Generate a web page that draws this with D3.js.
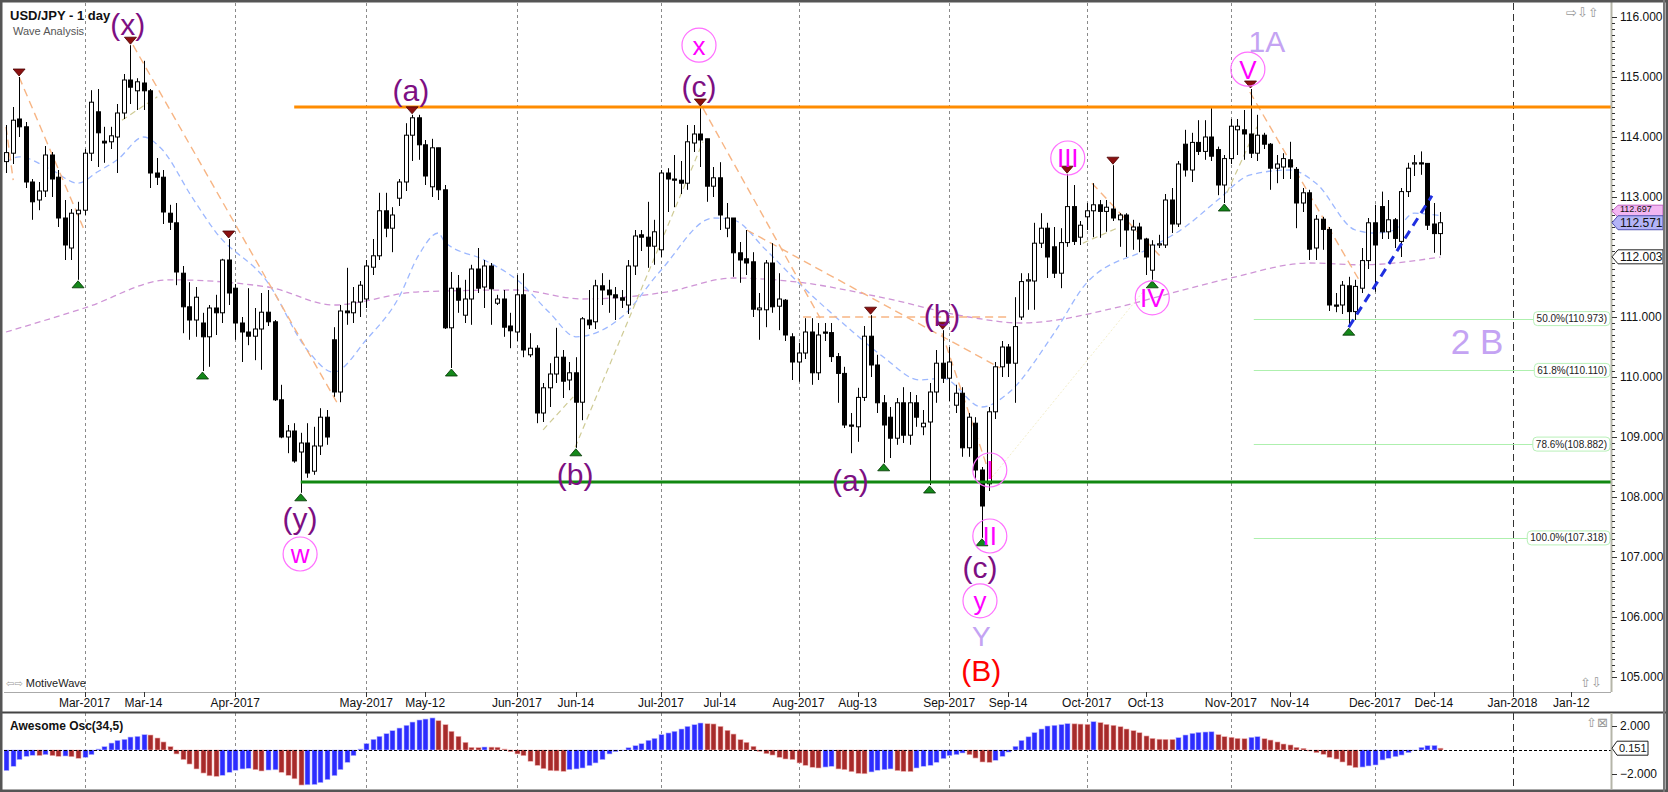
<!DOCTYPE html>
<html><head><meta charset="utf-8">
<script src="https://cdn.jsdelivr.net/npm/d3@7"></script>
<style>
html,body{margin:0;padding:0;background:#fff;overflow:hidden}
svg{display:block;font-family:"Liberation Sans",Arial,sans-serif}
</style></head><body>
<svg id="c" width="1668" height="792"></svg>
<script>
// ---------- DATA ----------
const open = [113.59,113.73,114.30,114.17,113.25,112.95,113.10,113.70,113.33,112.65,
112.15,112.72,112.78,113.73,114.42,113.93,113.92,114.00,114.40,114.95,
114.77,114.90,114.77,113.40,113.33,112.73,112.57,111.73,111.17,110.95,
110.90,110.67,111.15,111.07,111.95,111.48,110.90,110.75,110.68,110.80,
111.08,110.92,109.62,109.00,109.10,108.75,108.90,108.43,108.85,109.33,
110.62,109.75,111.10,111.07,111.25,111.30,111.83,112.02,112.77,112.48,
112.98,113.25,114.03,114.32,113.87,113.17,113.82,113.12,110.82,111.48,
111.03,111.30,111.80,111.50,111.85,111.23,111.30,110.85,110.75,111.37,
110.37,110.48,109.40,109.82,110.05,110.33,109.95,110.07,109.58,110.95,
110.92,111.52,111.45,111.37,111.32,111.20,111.85,112.37,112.33,112.18,
112.12,113.40,113.30,113.28,113.23,113.90,114.05,113.97,113.18,113.32,
112.48,112.65,112.07,111.97,111.92,111.12,111.12,111.90,111.18,111.28,
110.67,110.25,110.40,110.75,110.07,110.75,110.74,110.34,110.06,109.20,
109.17,109.66,110.68,110.20,109.57,109.33,108.98,109.57,109.03,109.57,
109.17,109.25,109.75,110.23,109.98,109.53,109.73,108.82,109.23,108.45,
108.22,109.42,110.17,110.50,110.23,111.00,111.60,111.60,112.23,112.48,
112.17,111.73,112.24,112.84,112.33,112.67,112.77,112.87,112.76,112.80,
112.62,112.70,112.45,112.50,112.30,111.78,112.20,112.20,112.95,112.55,
113.88,113.45,113.91,113.76,114.00,113.79,113.20,113.64,114.12,114.12,
114.05,113.73,114.03,113.88,113.48,113.50,113.62,113.46,112.90,113.07,
112.15,112.63,112.46,111.20,111.20,111.52,111.09,111.48,111.94,112.57,
112.84,112.42,112.62,112.26,113.09,113.55,113.57,113.56,112.55,112.39];
const high = [114.20,114.50,115.00,114.25,113.30,113.25,113.85,113.75,113.45,112.95,
112.80,112.92,113.80,114.78,114.80,114.17,114.17,114.55,115.05,115.53,
114.98,115.27,114.80,113.65,113.45,112.87,112.90,111.85,111.58,111.50,
111.07,111.20,111.37,111.97,112.30,111.55,111.00,111.48,111.15,111.40,
111.45,110.95,109.87,109.20,109.23,109.07,109.23,109.17,109.48,109.45,
110.83,111.20,111.82,111.50,111.60,111.95,112.30,113.07,113.07,112.83,
113.30,114.23,114.37,114.37,113.95,113.97,113.82,113.20,111.75,111.70,
111.62,111.87,112.15,111.95,111.90,111.37,111.45,111.07,111.70,111.73,
110.73,110.53,109.90,110.23,110.82,110.45,110.25,110.33,111.00,111.45,
111.62,111.73,111.62,111.50,111.45,111.95,112.45,112.45,112.92,112.62,
113.45,113.48,113.70,113.60,114.20,114.20,114.50,113.97,113.50,113.58,
112.90,112.65,112.25,112.45,112.08,111.40,111.95,112.23,111.73,111.30,
110.73,110.57,110.98,110.98,110.90,110.90,110.90,110.40,110.17,109.40,
109.82,110.85,111.03,110.37,109.70,109.50,109.65,109.83,109.75,109.70,
109.45,109.90,110.45,110.78,110.50,109.87,109.83,109.40,109.33,108.50,
109.50,110.25,110.60,110.55,111.33,111.73,111.73,112.57,112.73,112.57,
112.50,112.48,113.38,113.20,112.60,112.90,113.23,112.95,112.95,113.53,
112.73,112.73,112.62,112.57,112.32,112.28,112.37,113.05,113.15,113.60,
114.12,114.07,114.28,114.28,114.48,113.84,113.70,114.30,114.30,114.45,
114.80,114.37,114.07,113.90,113.70,113.73,113.92,113.50,113.15,113.12,
112.70,112.67,112.50,111.40,111.60,111.67,111.62,112.15,112.65,112.87,
113.09,112.95,112.65,113.15,113.57,113.70,113.76,113.56,112.90,112.75];
const low = [113.40,113.55,114.00,113.15,112.62,112.78,113.00,113.00,112.50,111.95,
111.95,111.62,112.70,113.60,113.50,113.57,113.80,113.40,114.30,114.55,
114.45,114.45,113.15,113.20,112.55,112.45,111.53,110.73,110.62,110.67,
110.10,110.17,110.70,110.90,111.20,110.62,110.25,110.53,110.28,110.12,
110.85,109.60,108.98,108.73,108.57,108.07,108.32,108.37,108.70,108.87,
109.67,109.58,110.87,110.90,111.00,111.15,111.70,111.95,112.33,112.08,
112.85,113.10,113.60,113.62,113.20,113.00,112.95,110.80,110.15,111.07,
110.90,110.87,111.40,111.15,110.87,111.20,110.67,110.48,110.60,110.33,
110.33,109.23,109.25,109.50,109.90,109.65,109.78,108.82,109.28,110.80,
110.80,111.20,111.07,110.95,111.15,111.05,111.70,112.10,111.82,111.87,
112.00,112.75,112.83,113.05,113.12,113.75,113.50,112.92,113.00,112.45,
112.33,111.67,111.57,111.70,111.00,110.62,110.83,111.07,110.78,110.60,
109.95,109.92,110.30,109.87,109.95,110.60,110.25,109.57,109.15,108.73,
108.92,109.60,110.00,109.40,108.57,108.65,108.87,108.90,108.87,109.17,
109.03,108.20,109.57,109.90,109.60,109.40,108.67,108.67,108.30,107.32,
108.10,109.30,110.00,110.00,109.57,110.95,111.12,111.12,112.15,111.65,
111.65,111.48,112.17,112.20,112.20,112.45,112.33,112.32,112.42,112.60,
112.17,112.00,112.12,112.08,111.70,111.62,112.15,112.15,112.40,112.50,
113.34,113.25,113.70,113.62,113.60,113.03,112.90,113.55,113.70,113.62,
113.65,113.60,113.80,113.12,113.23,113.30,113.30,112.48,112.75,111.95,
111.95,112.12,111.10,111.08,111.05,110.83,110.95,111.40,111.80,111.42,
112.30,112.30,112.15,112.00,113.00,113.35,113.37,112.45,112.07,112.03];
const close = [113.74,114.28,114.17,113.25,112.92,113.10,113.70,113.30,112.65,112.20,
112.73,112.78,113.73,114.58,114.07,113.90,114.02,114.40,114.95,114.83,
114.92,114.77,113.40,113.33,112.75,112.58,111.75,111.17,110.95,111.33,
110.67,111.15,111.07,111.95,111.40,110.90,110.75,110.68,110.80,111.08,
110.92,109.62,109.00,109.10,108.60,108.90,108.40,108.85,109.33,109.00,
109.75,111.10,111.07,111.25,111.53,111.85,112.02,112.77,112.48,112.70,
113.25,114.03,114.32,113.87,113.35,113.82,113.12,110.82,111.48,111.28,
111.30,111.80,111.48,111.85,111.47,111.30,110.83,110.77,111.37,110.45,
110.48,109.40,109.82,110.05,110.33,109.93,110.07,109.58,110.97,110.87,
111.52,111.45,111.37,111.32,111.28,111.85,112.35,112.33,112.18,112.42,
113.40,113.30,113.28,113.23,113.92,114.05,113.95,113.18,113.32,112.70,
112.65,112.07,111.95,111.90,111.13,111.15,111.90,111.17,111.30,110.70,
110.25,110.40,110.75,110.07,110.70,110.73,110.34,110.06,109.20,109.18,
109.66,110.68,110.20,109.57,109.20,108.98,109.57,109.03,109.57,109.33,
109.23,109.75,110.23,109.98,110.25,109.73,108.82,109.33,108.45,107.85,
109.42,110.17,110.50,110.23,110.84,111.59,111.62,112.23,112.48,112.00,
111.73,112.24,112.84,112.26,112.53,112.77,112.87,112.76,112.83,112.65,
112.70,112.45,112.50,112.30,112.00,112.20,112.22,112.95,112.55,113.55,
113.45,113.91,113.76,114.00,113.68,113.20,113.64,114.18,114.18,114.05,
113.73,114.03,113.88,113.48,113.55,113.64,113.50,112.90,113.07,112.13,
112.63,112.46,111.20,111.18,111.53,111.09,111.51,111.94,112.57,112.20,
112.42,112.62,112.31,113.09,113.48,113.57,113.55,112.53,112.39,112.571];
const awesomeOsc = [-1.72,-1.36,-0.80,-0.53,-0.44,-0.46,-0.39,-0.47,-0.53,-0.50,
-0.56,-0.69,-0.61,-0.39,0.08,0.28,0.58,0.80,0.89,1.08,
1.14,1.28,1.25,1.00,0.67,0.28,-0.33,-0.80,-1.17,-1.58,
-1.92,-2.15,-2.20,-2.11,-1.86,-1.69,-1.58,-1.53,-1.64,-1.75,
-1.67,-1.65,-1.86,-2.11,-2.40,-2.92,-2.90,-2.88,-2.72,-2.47,
-2.14,-1.64,-1.03,-0.47,0.08,0.53,0.89,1.14,1.36,1.61,
1.83,2.06,2.33,2.50,2.58,2.67,2.44,2.11,1.56,1.14,
0.64,0.22,0.20,0.25,0.24,0.23,0.08,-0.14,-0.33,-0.47,
-0.94,-1.28,-1.56,-1.72,-1.74,-1.78,-1.64,-1.58,-1.50,-1.31,
-1.08,-0.80,-0.33,-0.14,-0.03,0.19,0.36,0.53,0.81,0.97,
1.28,1.42,1.56,1.75,1.97,2.11,2.25,2.19,2.17,1.97,
1.64,1.33,0.86,0.64,0.31,-0.11,-0.31,-0.42,-0.61,-0.75,
-0.80,-1.08,-1.28,-1.44,-1.50,-1.42,-1.36,-1.58,-1.64,-1.81,
-1.95,-1.98,-1.83,-1.69,-1.64,-1.58,-1.72,-1.78,-1.80,-1.50,
-1.36,-1.28,-1.03,-0.72,-0.47,-0.39,-0.25,-0.39,-0.67,-1.00,
-1.03,-0.86,-0.53,-0.17,0.31,0.80,1.10,1.45,1.75,2.00,
2.06,2.12,2.20,2.18,2.16,2.14,2.36,2.28,2.14,2.06,
1.94,1.75,1.61,1.44,1.17,0.97,0.90,0.89,0.88,1.03,
1.25,1.39,1.47,1.50,1.52,1.28,1.11,1.06,0.97,0.94,
1.06,1.11,0.94,0.83,0.67,0.50,0.42,0.22,0.14,-0.08,
-0.22,-0.36,-0.61,-0.75,-1.00,-1.30,-1.46,-1.42,-1.33,-1.25,
-0.83,-0.69,-0.56,-0.42,-0.22,-0.06,0.22,0.36,0.38,0.151];

// moving averages, sampled [bar index, price]
const blueMA = [[0,113.58],[2,113.67],[7,113.45],[11,113.23],[14,113.42],[17,113.62],[21,114.0],[23.5,113.83],[28.5,112.98],[32,112.42],[40,111.57],[46,110.45],[50,110.08],[55,110.62],[60,111.33],[63,112.03],[66,112.4],[67,112.25],[73,111.95],[78,111.62],[83,111.07],[87,110.67],[94,111.0],[100,111.78],[108,112.65],[111,112.62],[116,112.12],[121,111.57],[129,110.78],[134,110.33],[139.5,109.95],[143,109.98],[149,109.5],[153,109.73],[160,110.73],[165,111.57],[175,112.17],[180,112.5],[185,112.95],[190,113.37],[196,113.45],[200,113.23],[206,112.45],[209,112.4],[212,112.45],[215,112.73],[219,112.69]];
const purpleMA = [[0,110.75],[12,111.15],[25,111.62],[40,111.5],[50,111.2],[63,111.42],[78,111.45],[88,111.3],[101,111.42],[111,111.65],[121,111.58],[134,111.32],[147,111.0],[155,110.9],[170,111.17],[178,111.4],[187,111.65],[199,111.9],[207,111.87],[219,112.0]];

// time axis
const tickIdx = [12,21,35,55,64,78,87,100,109,121,130,144,153,165,174,187,196,209,218,230,239];
const tickLabels = ["Mar-2017","Mar-14","Apr-2017","May-2017","May-12","Jun-2017","Jun-14","Jul-2017","Jul-14","Aug-2017","Aug-13","Sep-2017","Sep-14","Oct-2017","Oct-13","Nov-2017","Nov-14","Dec-2017","Dec-14","Jan-2018","Jan-12"];
const monthIdx = [12,35,55,78,100,121,144,165,187,209];
const yearIdx = [230];
const priceTicks = [105,106,107,108,109,110,111,112,113,114,115,116];
const oscTicks = [2,-2];

// annotations
const swingHighIdx = [2,19,34,62,106,132,143,162,169,190];
const swingLowIdx = [11,30,45,68,87,134,141,149,175,186,205];
const resistance = {from:44, price:114.5};
const support = {from:45, price:108.25};
const fibLevels = [110.973,110.110,108.882,107.318];
const fibPct = ["50.0%","61.8%","78.6%","100.0%"];
const fibFrom = 190.5;
const trendLine = [[205,110.83],[217.7,113.02]];
const waveLines = [[[0,114.17],[1.1,113.28]],[[2,115.0],[12.06,112.42]],[[19.4,115.53],[50.5,109.58]],[[106.4,114.48],[124.3,110.98]],[[113.1,112.45],[151.8,110.15]],[[121.7,111.0],[153.3,111.0]],[[142.9,110.73],[150.2,108.37]],[[165.8,113.23],[176.5,111.98]],[[189.9,114.75],[207.2,111.5]]];
const subWaveLines = [[[86.9,108.83],[106.4,113.92]],[[17.7,114.28],[23.1,114.67]],[[82,109.12],[86.6,109.67]],[[164.4,112.23],[169.6,112.48]],[[186.4,113.07],[191,114.17]]];
const faintLines = [[[149.8,108.23],[174.7,111.57]]];
const waveText = ["(x)","(a)","(c)","(b)","(y)","(a)","(b)","(c)"];
const waveTextPos = [[18.6,115.87],[61.8,114.78],[105.8,114.85],[86.9,108.38],[44.9,107.65],[128.9,108.27],[142.9,111.02],[148.7,106.83]];
const circText = ["x","w","III","IV","I","II","y","V"];
const circPos = [[105.8,115.53],[44.9,107.05],[162.1,113.65],[175,111.32],[150.2,108.45],[150.2,107.35],[148.7,106.27],[189.6,115.13]];
const degreeText = ["1A","2 B","Y"];
const degreePos = [[192.5,115.6],[224.6,110.6],[148.9,105.68]];
const degreeSize = [30,35,28];
const majorText = ["(B)"];
const majorPos = [[148.9,105.12]];
const axisMarkers = [112.697,112.571,112.003];
const oscMarker = 0.151;

// ---------- LAYOUT ----------
const W=1668,H=792;
const L=4, R=1611, PT=3, PB=692, AXB=712, OT=713, OB=789;
const svg = d3.select("#c");
const N = close.length;
const x = d3.scaleLinear().domain([0,N-1]).range([6, 6+6.55*(N-1)]);
const y = d3.scaleLinear().domain([105,116]).range([677,17]);
const yo = d3.scaleLinear().domain([-2,2]).range([774,726]);

svg.append("rect").attr("width",W).attr("height",H).attr("fill","#fff");
const defs = svg.append("defs");
defs.append("clipPath").attr("id","cp").append("rect").attr("x",L).attr("y",PT).attr("width",R-L).attr("height",PB-PT);
defs.append("clipPath").attr("id","co").append("rect").attr("x",L).attr("y",OT).attr("width",R-L).attr("height",OB-OT);

const P = svg.append("g").attr("clip-path","url(#cp)");
const O = svg.append("g").attr("clip-path","url(#co)");

// grid lines
[[P,PT,PB],[O,OT,OB]].forEach(([g,t,b])=>{
  g.selectAll(null).data(monthIdx).join("line")
   .attr("x1",d=>Math.round(x(d))+0.5).attr("x2",d=>Math.round(x(d))+0.5).attr("y1",t).attr("y2",b)
   .attr("stroke","#8a8a8a").attr("stroke-dasharray","3,3");
  g.selectAll(null).data(yearIdx).join("line")
   .attr("x1",d=>Math.round(x(d))+0.5).attr("x2",d=>Math.round(x(d))+0.5).attr("y1",t).attr("y2",b)
   .attr("stroke","#333").attr("stroke-dasharray","7,4");
});

// fib lines
P.selectAll(null).data(fibLevels).join("line")
 .attr("x1",x(fibFrom)).attr("x2",R).attr("y1",d=>Math.round(y(d))+0.5).attr("y2",d=>Math.round(y(d))+0.5)
 .attr("stroke","#aef0ae").attr("stroke-width",1);

// moving averages
const ln = d3.line().x(d=>x(d[0])).y(d=>y(d[1])).curve(d3.curveMonotoneX);
P.append("path").attr("d",ln(purpleMA)).attr("fill","none").attr("stroke","#cf95d6").attr("stroke-width",1.3).attr("stroke-dasharray","6,4");
P.append("path").attr("d",ln(blueMA)).attr("fill","none").attr("stroke","#9db8ff").attr("stroke-width",1.3).attr("stroke-dasharray","6,4");

// wave lines
const sl = d3.line().x(d=>x(d[0])).y(d=>y(d[1]));
P.selectAll(null).data(faintLines).join("path").attr("d",sl).attr("fill","none").attr("stroke","#f3eecb").attr("stroke-width",1).attr("stroke-dasharray","2,2");
P.selectAll(null).data(subWaveLines).join("path").attr("d",sl).attr("fill","none").attr("stroke","#cfcb95").attr("stroke-width",1.2).attr("stroke-dasharray","6,4");
P.selectAll(null).data(waveLines).join("path").attr("d",sl).attr("fill","none").attr("stroke","#f7b584").attr("stroke-width",1.4).attr("stroke-dasharray","8,5");

// candles
const idx = d3.range(N);
P.selectAll(null).data(idx).join("line")
 .attr("x1",i=>Math.round(x(i))+0.5).attr("x2",i=>Math.round(x(i))+0.5)
 .attr("y1",i=>y(high[i])).attr("y2",i=>y(low[i])).attr("stroke","#000").attr("stroke-width",1);
P.selectAll(null).data(idx).join("rect")
 .attr("x",i=>Math.round(x(i))-1.5).attr("width",4)
 .attr("y",i=>y(Math.max(open[i],close[i])))
 .attr("height",i=>Math.max(1,Math.abs(y(open[i])-y(close[i]))))
 .attr("fill",i=>close[i]>=open[i]?"#fff":"#000").attr("stroke","#000").attr("stroke-width",1);

// horizontal support / resistance
P.append("line").attr("x1",x(resistance.from)).attr("x2",R).attr("y1",y(resistance.price)).attr("y2",y(resistance.price)).attr("stroke","#ff8c00").attr("stroke-width",3);
P.append("line").attr("x1",x(support.from)).attr("x2",R).attr("y1",y(support.price)).attr("y2",y(support.price)).attr("stroke","#118811").attr("stroke-width",3);

// trend line
P.append("path").attr("d",sl(trendLine)).attr("stroke","#1f2fe0").attr("stroke-width",3).attr("stroke-dasharray","9,6").attr("fill","none");

// swing markers
P.selectAll(null).data(swingHighIdx).join("path")
 .attr("d",i=>{const cx=x(i),cy=y(high[i]);return `M${cx-6},${cy-8}L${cx+6},${cy-8}L${cx},${cy-1}Z`;})
 .attr("fill","#8b1010").attr("stroke","#4a0000").attr("stroke-width",0.8);
P.selectAll(null).data(swingLowIdx).join("path")
 .attr("d",i=>{const cx=x(i),cy=y(low[i]);return `M${cx-6},${cy+8}L${cx+6},${cy+8}L${cx},${cy+1}Z`;})
 .attr("fill","#14881a").attr("stroke","#003300").attr("stroke-width",0.8);

// fib labels
const FB = P.append("g"), FT = P.append("g");
fibLevels.forEach((v,k)=>{
  const t = FT.append("text").attr("x",R-4).attr("y",y(v)).attr("dy","0.35em").attr("text-anchor","end")
    .attr("font-size",10).attr("fill","#222").text(fibPct[k]+"("+v.toFixed(3)+")");
  const w = t.node().getComputedTextLength();
  FB.append("rect").attr("x",R-w-7).attr("y",y(v)-7).attr("width",w+6).attr("height",14).attr("rx",4)
   .attr("fill","#fff").attr("stroke","#b8f0b8");
});

// wave labels
const A = svg.append("g");
A.selectAll(null).data(waveText).join("text")
 .attr("x",(d,k)=>x(waveTextPos[k][0])).attr("y",(d,k)=>y(waveTextPos[k][1])).attr("dy","0.35em")
 .attr("text-anchor","middle").attr("font-size",30).attr("fill","#7d0f82").text(d=>d);
A.selectAll(null).data(circText).join("circle")
 .attr("cx",(d,k)=>x(circPos[k][0])).attr("cy",(d,k)=>y(circPos[k][1])).attr("r",17)
 .attr("fill","none").attr("stroke","#ff70ff").attr("stroke-width",1.2);
A.selectAll(null).data(circText).join("text")
 .attr("x",(d,k)=>x(circPos[k][0])).attr("y",(d,k)=>y(circPos[k][1])).attr("dy","0.36em")
 .attr("text-anchor","middle").attr("font-size",26).attr("fill","#ff00ff").text(d=>d);
A.selectAll(null).data(degreeText).join("text")
 .attr("x",(d,k)=>x(degreePos[k][0])).attr("y",(d,k)=>y(degreePos[k][1])).attr("dy","0.36em")
 .attr("text-anchor","middle").attr("font-size",(d,k)=>degreeSize[k]).attr("fill","#c4a3f3").text(d=>d);
A.selectAll(null).data(majorText).join("text")
 .attr("x",(d,k)=>x(majorPos[k][0])).attr("y",(d,k)=>y(majorPos[k][1])).attr("dy","0.36em")
 .attr("text-anchor","middle").attr("font-size",30).attr("fill","#ff0000").text(d=>d);

// title
svg.append("text").attr("x",10).attr("y",20).attr("font-size",13).attr("font-weight","bold").attr("fill","#111").text("USD/JPY - 1 day");
svg.append("text").attr("x",13).attr("y",35).attr("font-size",11).attr("fill","#555").text("Wave Analysis");
svg.append("text").attr("x",6).attr("y",687).attr("font-size",11).attr("fill","#222")
  .html('<tspan fill="#999" font-family="DejaVu Sans" font-size="10">⇦⇨</tspan> MotiveWave');
svg.append("text").attr("x",1566).attr("y",17).attr("font-size",13).attr("font-family","DejaVu Sans").attr("fill","#999").text("⇨⇩⇧");
svg.append("text").attr("x",1580).attr("y",687).attr("font-size",13).attr("font-family","DejaVu Sans").attr("fill","#999").text("⇧⇩");
svg.append("text").attr("x",1586).attr("y",727).attr("font-size",13).attr("font-family","DejaVu Sans").attr("fill","#999").text("⇧⊠");

// ---------- OSCILLATOR ----------
O.selectAll(null).data(idx).join("rect")
 .attr("x",i=>Math.round(x(i))-2).attr("width",5)
 .attr("y",i=>Math.min(yo(0),yo(awesomeOsc[i])))
 .attr("height",i=>Math.abs(yo(awesomeOsc[i])-yo(0)))
 .attr("fill",i=>(i===0||awesomeOsc[i]>awesomeOsc[i-1])?"#2c2cff":"#a72b2b")
 .attr("stroke",i=>(i===0||awesomeOsc[i]>awesomeOsc[i-1])?"#b9b9ff":"#f0b0b0").attr("stroke-width",0.6);
svg.append("line").attr("x1",L).attr("x2",R+2).attr("y1",Math.round(yo(0))+0.5).attr("y2",Math.round(yo(0))+0.5)
 .attr("stroke","#000").attr("stroke-dasharray","3,2");
svg.append("text").attr("x",10).attr("y",730).attr("font-size",12).attr("font-weight","bold").attr("fill","#111").text("Awesome Osc(34,5)");

// ---------- FRAMES & AXES ----------
svg.append("line").attr("x1",L).attr("x2",R).attr("y1",PB+0.5).attr("y2",PB+0.5).attr("stroke","#aaa");
svg.append("line").attr("x1",0).attr("x2",W).attr("y1",AXB+0.5).attr("y2",AXB+0.5).attr("stroke","#444").attr("stroke-width",2);
svg.append("line").attr("x1",R+0.5).attr("x2",R+0.5).attr("y1",0).attr("y2",PB).attr("stroke","#b5b5a8").attr("stroke-width",2);
svg.append("line").attr("x1",R+0.5).attr("x2",R+0.5).attr("y1",OT).attr("y2",OB).attr("stroke","#b5b5a8").attr("stroke-width",2);

// price axis
const ya = svg.append("g").attr("transform",`translate(${R+1},0)`)
  .call(d3.axisRight(y).tickValues(priceTicks).tickFormat(d3.format(".3f")).tickSize(5).tickPadding(3));
ya.select(".domain").remove();
ya.selectAll("text").attr("font-size",12).attr("fill","#111").attr("font-family","Liberation Sans, Arial");
ya.selectAll("line").attr("stroke","#333");
const minor = d3.range(1050,1161).map(d=>d/10).filter(d=>Math.abs(d-Math.round(d))>0.01);
svg.selectAll(null).data(minor).join("line").attr("x1",R+1).attr("x2",R+4)
 .attr("y1",d=>Math.round(y(d))+0.5).attr("y2",d=>Math.round(y(d))+0.5).attr("stroke","#333");

// osc axis
const oa = svg.append("g").attr("transform",`translate(${R+1},0)`)
  .call(d3.axisRight(yo).tickValues(oscTicks).tickFormat(d3.format(".3f")).tickSize(5).tickPadding(3));
oa.select(".domain").remove();
oa.selectAll("text").attr("font-size",12).attr("fill","#111");
oa.selectAll("line").attr("stroke","#333");

// time axis
const xa = svg.append("g").attr("transform",`translate(0,${PB})`);
xa.selectAll(null).data(tickIdx).join("line")
 .attr("x1",d=>Math.round(x(d))+0.5).attr("x2",d=>Math.round(x(d))+0.5).attr("y1",0).attr("y2",5).attr("stroke","#333");
xa.selectAll(null).data(tickLabels).join("text")
 .attr("x",(d,k)=>x(tickIdx[k])).attr("y",11).attr("dy","0.35em").attr("text-anchor","middle")
 .attr("font-size",12).attr("fill","#111").text(d=>d);

// axis value markers (the first one sits mostly behind the second, as in the reference)
const markerFill = ["#f2b6f2","#b3b3f7","#ffffff"];
const markerStroke = ["#c060c0","#5050b0","#222"];
const markerFont = [9,12,12];
const markerShift = [-4,0,0];
axisMarkers.forEach((v,k)=>{
  const cy = y(v)+markerShift[k], x0=R+1, x1=W-5;
  const hh = k===0?6:7;
  svg.append("path").attr("d",`M${x0},${cy}L${x0+6},${cy-hh}L${x1},${cy-hh}L${x1},${cy+hh}L${x0+6},${cy+hh}Z`)
    .attr("fill",markerFill[k]).attr("stroke",markerStroke[k]);
  svg.append("text").attr("x",x0+8).attr("y",cy).attr("dy",k===0?"0.1em":"0.36em").attr("font-size",markerFont[k]).attr("fill","#111").text(v.toFixed(3));
});
{
  const cy = yo(oscMarker), x0=R+1, x1=R+37;
  svg.append("path").attr("d",`M${x0},${cy}L${x0+5},${cy-7}L${x1},${cy-7}L${x1},${cy+7}L${x0+5},${cy+7}Z`).attr("fill","#fff").attr("stroke","#222");
  svg.append("text").attr("x",x0+7).attr("y",cy).attr("dy","0.36em").attr("font-size",11).attr("fill","#111").text(oscMarker.toFixed(3));
}

// outer window frame
svg.append("rect").attr("x",1).attr("y",1).attr("width",W-2).attr("height",H-2).attr("fill","none").attr("stroke","#555").attr("stroke-width",3);
svg.append("line").attr("x1",W-4).attr("x2",W-4).attr("y1",0).attr("y2",H).attr("stroke","#777").attr("stroke-width",2);
</script>
</body></html>
